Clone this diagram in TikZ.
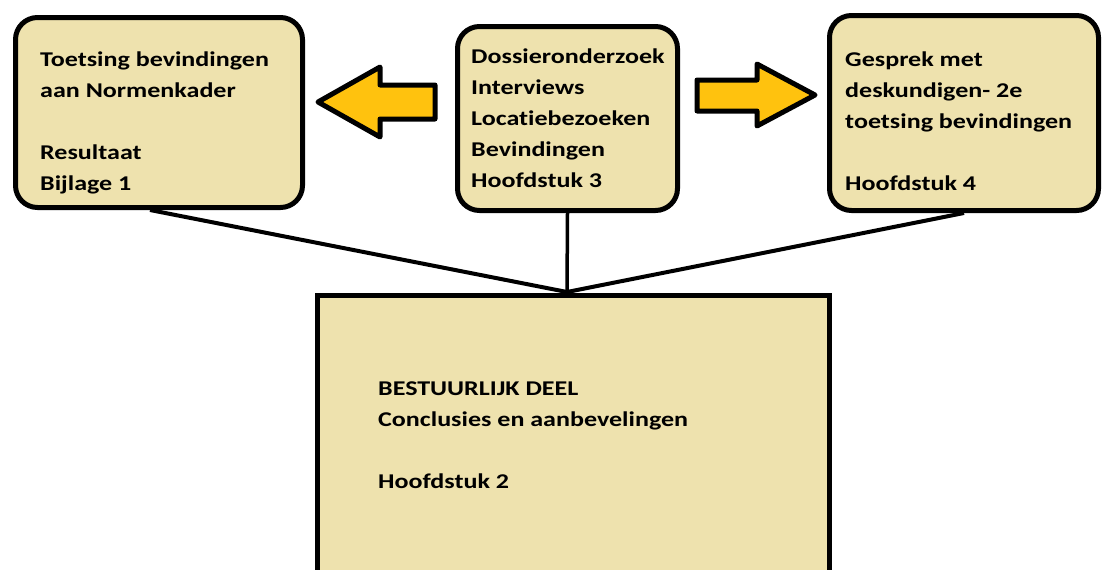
\documentclass[tikz,border=0pt]{standalone}
\usepackage{fontspec}
\setmainfont{Carlito}[FakeStretch=1.24, Ligatures={NoCommon}]
\usetikzlibrary{calc}
\definecolor{kader}{RGB}{238,226,174}
\definecolor{pijl}{RGB}{255,194,14}
\tikzset{
  blok/.style={draw, line width=5pt, fill=kader, rounded corners=22pt, inner sep=0pt},
  deelblok/.style={draw, line width=5pt, fill=kader, inner sep=0pt},
  tekst/.style={align=left, anchor=base west, inner sep=0pt, font=\bfseries\fontsize{21}{31}\selectfont},
  pijlvorm/.style={draw, line width=5pt, fill=pijl, line join=round},
  lijn/.style={line width=4pt}
}

\begin{document}
\begin{tikzpicture}[x=1pt, y=-1pt]
\useasboundingbox (0,0) rectangle (1103,570);
\clip (0,0) rectangle (1103,570);
\node[blok, minimum width=287pt, minimum height=190pt] (toetsing) at (159,112.5) {};
\node[blok, minimum width=220pt, minimum height=184pt] (onderzoek) at (567.5,118.5) {};
\node[blok, minimum width=269pt, minimum height=195pt] (gesprek) at (964,113) {};
\node[deelblok, minimum width=512pt, minimum height=310pt] (deel) at (573.5,450.5) {};
\coordinate (hub) at (567,292);
\path[lijn]
(toetsing.south) ++(-9,0) edge (hub)
(onderzoek.south) edge[line width=3.5pt] (hub)
(gesprek.south) edge (hub);
% pijlen
\draw[pijlvorm] (435,85) -- (380,85) -- (380,67) -- (318,102) -- (380,137) -- (380,119) -- (435,119) -- cycle;
\draw[pijlvorm] (697,80) -- (757,80) -- (757,64) -- (815,95) -- (757,126) -- (757,111) -- (697,111) -- cycle;
% teksten (base = laatste regel)
\node[tekst] (toetstekst) at (40,190) {Toetsing bevindingen\\aan Normenkader\\[31pt]Resultaat\\Bijlage 1};
\node[tekst] (onderzoektekst) at (471,187) {Dossieronderzoek\\Interviews\\Locatiebezoeken\\Bevindingen\\Hoofdstuk 3};
\node[tekst] (gesprektekst) at (845,190) {Gesprek met\\deskundigen- 2e\\toetsing bevindingen\\[31pt]Hoofdstuk 4};
\node[tekst] (deeltekst) at (378,488) {BESTUURLIJK DEEL\\Conclusies en aanbevelingen\\[31pt]Hoofdstuk 2};
\end{tikzpicture}
\end{document}
